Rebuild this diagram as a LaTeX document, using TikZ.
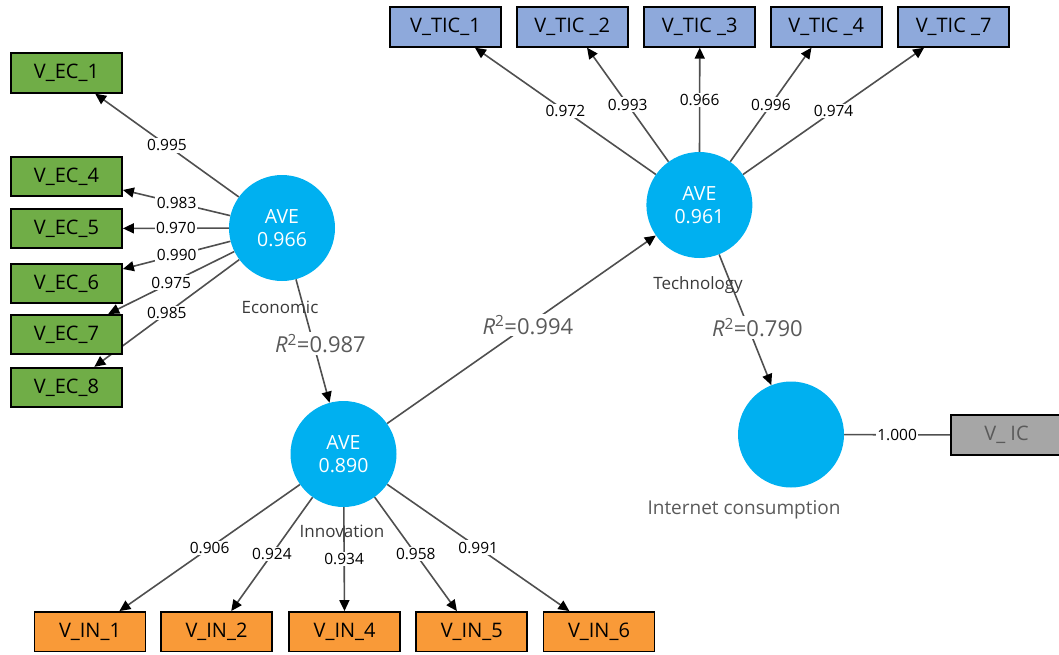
\documentclass[tikz,border=0pt]{standalone}
\usepackage{fontspec}
\setmainfont{Open Sans}
\usetikzlibrary{arrows.meta}
\definecolor{plsblue}{HTML}{00B0F0}
\definecolor{ecgreen}{HTML}{70AD47}
\definecolor{ticblue}{HTML}{8EA9DB}
\definecolor{inorange}{HTML}{F99A38}
\definecolor{icgray}{HTML}{A6A6A6}
\definecolor{linegray}{HTML}{4F4F4F}
\definecolor{namegray}{HTML}{3A3A3A}
\definecolor{rgray}{HTML}{5A5A5A}
\pgfdeclarelayer{background}
\pgfsetlayers{background,main}
\tikzset{
  ind/.style={draw=black, line width=1.8pt, minimum width=111pt, minimum height=39.5pt,
    inner sep=0pt, font=\fontsize{20}{22}\selectfont},
  ecbox/.style={ind, fill=ecgreen},
  ticbox/.style={ind, fill=ticblue},
  inbox/.style={ind, fill=inorange},
  icbox/.style={ind, fill=icgray, text=rgray},
  lv/.style={circle, fill=plsblue, minimum size=106pt, inner sep=0pt, text=white,
    align=center, font=\fontsize{19.5}{23}\selectfont},
  lvname/.style={text=namegray, font=\fontsize{17}{17}\selectfont, inner sep=0pt},
  link/.style={draw=linegray, line width=1.6pt, -{Triangle[length=11pt,width=10pt,color=black]}},
  plainlink/.style={draw=linegray, line width=1.6pt},
  wt/.style={fill=white, inner sep=1.5pt, text=black, font=\fontsize{15.5}{15.5}\selectfont},
  rsq/.style={fill=white, inner sep=2pt, text=rgray, font=\fontsize{22}{22}\selectfont}
}
\begin{document}
\begin{tikzpicture}[x=1pt, y=-1pt]
\useasboundingbox (0,0) rectangle (1059,654);

% latent variables
\node[lv] (ec)   at (282,228)   {AVE\\0.966};
\node[lv] (inn)  at (343.5,454) {AVE\\0.890};
\node[lv] (tech) at (699.4,205) {AVE\\0.961};
\node[lv] (ic)   at (791,434.5) {};

\node[lvname] (ecname)   at (280,307)   {Economic};
\node[lvname] (innname)  at (342,531)   {Innovation};
\node[lvname] (techname) at (698,285)   {Technology};
\node[lvname, text=rgray, font=\fontsize{19}{19}\selectfont] (icname) at (744,510) {Internet consumption};

% economic indicators
\node[ecbox] (ec1) at (66.5,73)    {V\_EC\_1};
\node[ecbox] (ec4) at (66.5,176.5) {V\_EC\_4};
\node[ecbox] (ec5) at (66.5,228.5) {V\_EC\_5};
\node[ecbox] (ec6) at (66.5,283.5) {V\_EC\_6};
\node[ecbox] (ec7) at (66.5,334.5) {V\_EC\_7};
\node[ecbox] (ec8) at (66.5,387.5) {V\_EC\_8};

% technology indicators
\node[ticbox] (tic1) at (445.5,27) {V\_TIC\_1};
\node[ticbox] (tic2) at (572.3,27) {V\_TIC \_2};
\node[ticbox] (tic3) at (699.8,27) {V\_TIC \_3};
\node[ticbox] (tic4) at (826.2,27) {V\_TIC \_4};
\node[ticbox] (tic7) at (953.6,27) {V\_TIC \_7};

% innovation indicators
\node[inbox] (in1) at (90,631.7)    {V\_IN\_1};
\node[inbox] (in2) at (216.5,631.7) {V\_IN\_2};
\node[inbox] (in4) at (344.6,631.7) {V\_IN\_4};
\node[inbox] (in5) at (471.8,631.7) {V\_IN\_5};
\node[inbox] (in6) at (599,631.7)   {V\_IN\_6};

% internet consumption indicator
\node[icbox] (vic) at (1006.5,435) {V\_ IC};

\begin{pgfonlayer}{background}
  % outer loadings
  \draw[link] (ec) -- node[wt]{0.995} (ec1);
  \draw[link] (ec) -- node[wt]{0.983} (ec4);
  \draw[link] (ec) -- node[wt]{0.970} (ec5);
  \draw[link] (ec) -- node[wt]{0.990} (ec6);
  \draw[link] (ec) -- node[wt]{0.975} (ec7);
  \draw[link] (ec) -- node[wt]{0.985} (ec8);

  \draw[link] (tech) -- node[wt]{0.972} (tic1);
  \draw[link] (tech) -- node[wt]{0.993} (tic2);
  \draw[link] (tech) -- node[wt]{0.966} (tic3);
  \draw[link] (tech) -- node[wt]{0.996} (tic4);
  \draw[link] (tech) -- node[wt]{0.974} (tic7);

  \draw[link] (inn) -- node[wt]{0.906} (in1);
  \draw[link] (inn) -- node[wt]{0.924} (in2);
  \draw[link] (inn) -- node[wt]{0.934} (in4);
  \draw[link] (inn) -- node[wt]{0.958} (in5);
  \draw[link] (inn) -- node[wt]{0.991} (in6);

  \draw[plainlink] (ic) -- node[wt]{1.000} (vic);

  % structural paths
  \draw[link] (ec) -- node[rsq, pos=0.52, xshift=7pt]{\textit{R}\textsuperscript{2}=0.987} (inn);
  \draw[link] (inn) -- node[rsq, pos=0.524]{\textit{R}\textsuperscript{2}=0.994} (tech);
  \draw[link] (tech) -- node[rsq, pos=0.56, xshift=9pt]{\textit{R}\textsuperscript{2}=0.790} (ic);
\end{pgfonlayer}
\end{tikzpicture}
\end{document}
